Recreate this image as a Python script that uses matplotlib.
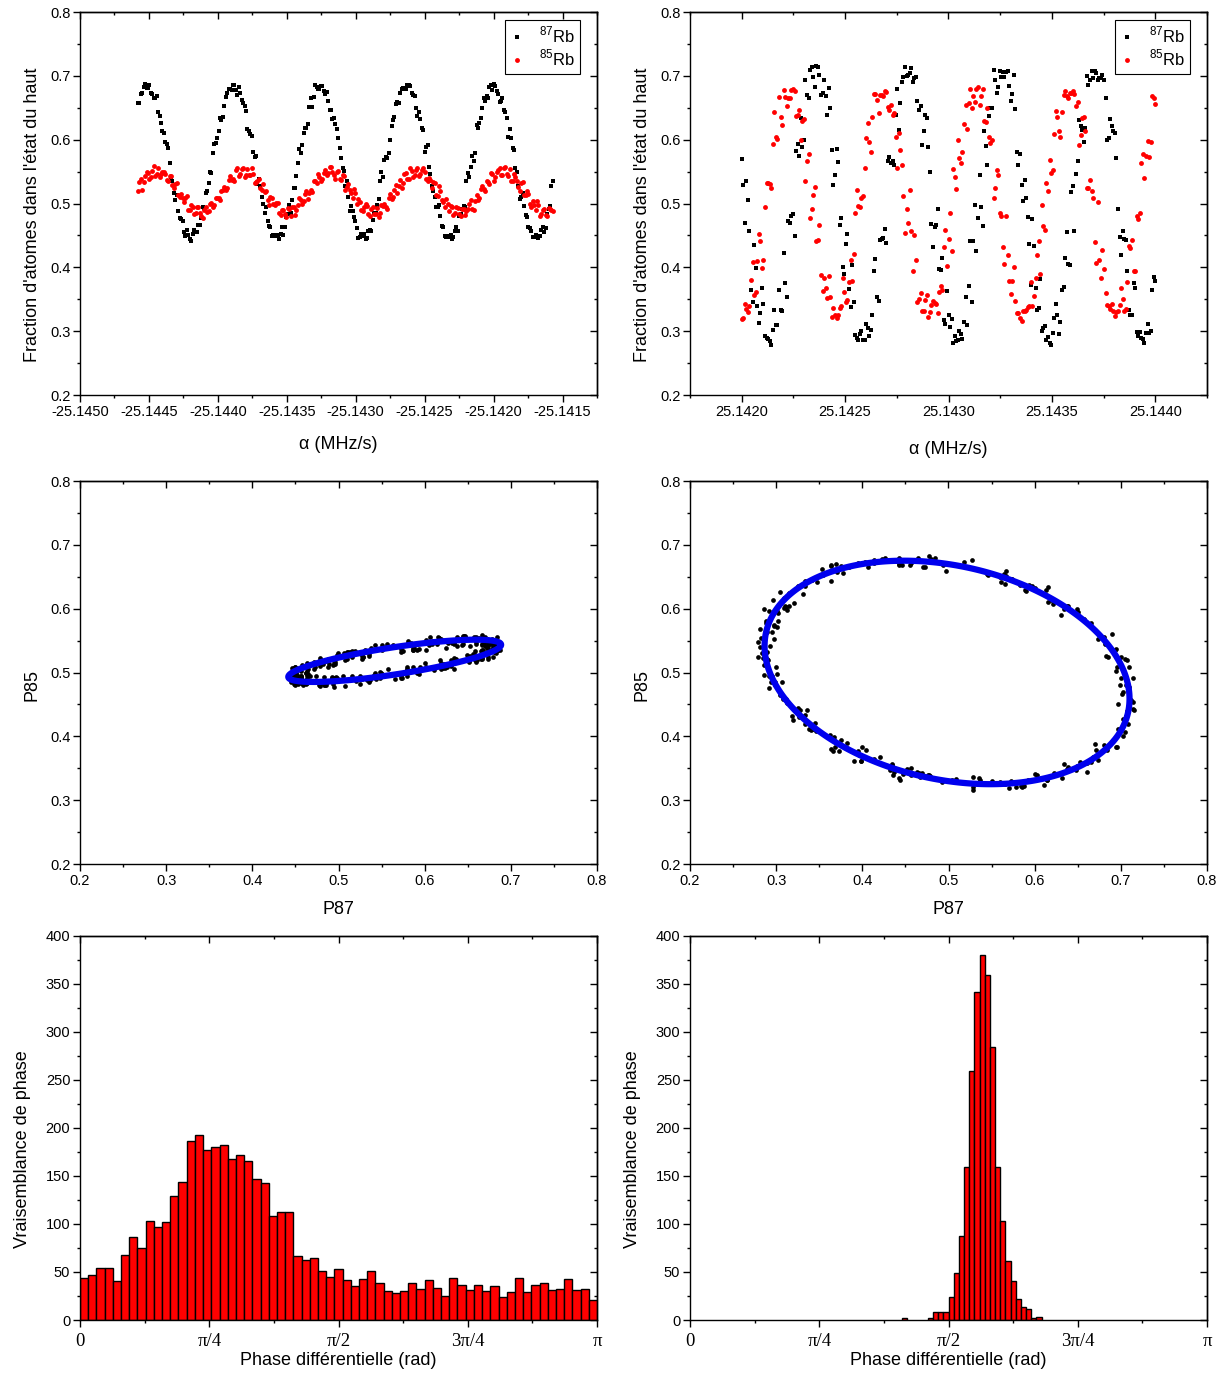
import numpy as np
import matplotlib.pyplot as plt
from matplotlib.ticker import MultipleLocator, FixedLocator, FormatStrFormatter
# imports needed packages

plt.rcParams['font.family'] = ['Liberation Sans', 'DejaVu Sans']
plt.rcParams['mathtext.fontset'] = 'custom'
plt.rcParams['mathtext.rm'] = 'Liberation Sans'
plt.rcParams['axes.linewidth'] = 1.0

# scan of the negative chirp (left column), fraction of atoms in the upper state
alpha_neg_start = -25.14458
alpha_neg_stop = -25.14157
p87_neg = [
    0.658, 0.658, 0.672, 0.673, 0.683, 0.687, 0.681, 0.681, 0.686, 0.673,
    0.672, 0.666, 0.666, 0.669, 0.644, 0.637, 0.627, 0.613, 0.610, 0.596,
    0.593, 0.587, 0.563, 0.542, 0.535, 0.516, 0.506, 0.513, 0.489, 0.478,
    0.476, 0.473, 0.456, 0.449, 0.458, 0.450, 0.445, 0.442, 0.452, 0.458,
    0.456, 0.456, 0.467, 0.467, 0.477, 0.495, 0.493, 0.516, 0.520, 0.533,
    0.549, 0.548, 0.579, 0.593, 0.595, 0.602, 0.613, 0.634, 0.631, 0.636,
    0.653, 0.667, 0.674, 0.680, 0.679, 0.678, 0.685, 0.685, 0.678, 0.670,
    0.682, 0.674, 0.663, 0.657, 0.653, 0.645, 0.617, 0.614, 0.609, 0.606,
    0.581, 0.573, 0.575, 0.531, 0.538, 0.528, 0.510, 0.499, 0.486, 0.494,
    0.472, 0.465, 0.463, 0.449, 0.451, 0.451, 0.449, 0.450, 0.445, 0.453,
    0.463, 0.450, 0.463, 0.479, 0.483, 0.498, 0.486, 0.505, 0.525, 0.525,
    0.543, 0.564, 0.586, 0.580, 0.591, 0.611, 0.619, 0.618, 0.624, 0.652,
    0.665, 0.652, 0.667, 0.685, 0.682, 0.679, 0.679, 0.684, 0.684, 0.677,
    0.672, 0.675, 0.660, 0.646, 0.647, 0.632, 0.634, 0.625, 0.617, 0.602,
    0.587, 0.572, 0.556, 0.551, 0.527, 0.535, 0.511, 0.488, 0.496, 0.488,
    0.479, 0.472, 0.462, 0.446, 0.447, 0.452, 0.449, 0.453, 0.445, 0.446,
    0.457, 0.459, 0.457, 0.474, 0.485, 0.485, 0.497, 0.507, 0.535, 0.550,
    0.541, 0.569, 0.573, 0.572, 0.580, 0.600, 0.621, 0.631, 0.635, 0.656,
    0.659, 0.658, 0.673, 0.679, 0.681, 0.680, 0.679, 0.685, 0.686, 0.684,
    0.674, 0.670, 0.669, 0.649, 0.637, 0.643, 0.632, 0.619, 0.616, 0.581,
    0.588, 0.591, 0.558, 0.546, 0.528, 0.519, 0.510, 0.495, 0.494, 0.498,
    0.480, 0.465, 0.464, 0.449, 0.448, 0.448, 0.449, 0.451, 0.444, 0.448,
    0.457, 0.464, 0.457, 0.480, 0.484, 0.492, 0.496, 0.494, 0.535, 0.548,
    0.542, 0.558, 0.574, 0.566, 0.580, 0.623, 0.619, 0.626, 0.634, 0.649,
    0.666, 0.661, 0.668, 0.665, 0.683, 0.686, 0.678, 0.687, 0.684, 0.677,
    0.672, 0.659, 0.660, 0.666, 0.647, 0.644, 0.634, 0.605, 0.617, 0.602,
    0.587, 0.584, 0.556, 0.550, 0.527, 0.507, 0.511, 0.516, 0.496, 0.482,
    0.479, 0.463, 0.462, 0.457, 0.447, 0.447, 0.450, 0.448, 0.446, 0.449,
    0.458, 0.463, 0.456, 0.462, 0.483, 0.492, 0.496, 0.527, 0.536]
p85_neg = [
    0.519, 0.534, 0.539, 0.522, 0.534, 0.543, 0.549, 0.548, 0.538, 0.541,
    0.551, 0.559, 0.543, 0.547, 0.556, 0.541, 0.547, 0.550, 0.550, 0.546,
    0.537, 0.536, 0.543, 0.543, 0.529, 0.524, 0.530, 0.532, 0.513, 0.511,
    0.515, 0.508, 0.502, 0.509, 0.512, 0.490, 0.490, 0.498, 0.494, 0.484,
    0.485, 0.494, 0.494, 0.486, 0.480, 0.477, 0.490, 0.495, 0.487, 0.488,
    0.499, 0.501, 0.494, 0.498, 0.509, 0.509, 0.508, 0.506, 0.520, 0.521,
    0.526, 0.521, 0.524, 0.537, 0.543, 0.537, 0.538, 0.536, 0.553, 0.556,
    0.543, 0.547, 0.554, 0.556, 0.542, 0.545, 0.554, 0.545, 0.544, 0.555,
    0.546, 0.532, 0.534, 0.535, 0.539, 0.525, 0.522, 0.530, 0.518, 0.519,
    0.505, 0.497, 0.511, 0.508, 0.500, 0.497, 0.501, 0.501, 0.486, 0.482,
    0.490, 0.490, 0.484, 0.479, 0.493, 0.491, 0.480, 0.495, 0.494, 0.482,
    0.490, 0.498, 0.509, 0.506, 0.500, 0.504, 0.515, 0.519, 0.507, 0.517,
    0.522, 0.518, 0.536, 0.535, 0.533, 0.547, 0.542, 0.535, 0.538, 0.548,
    0.553, 0.545, 0.548, 0.557, 0.558, 0.549, 0.544, 0.539, 0.550, 0.551,
    0.539, 0.537, 0.544, 0.543, 0.522, 0.526, 0.530, 0.521, 0.516, 0.509,
    0.523, 0.517, 0.500, 0.507, 0.503, 0.490, 0.489, 0.495, 0.499, 0.496,
    0.483, 0.480, 0.491, 0.495, 0.484, 0.483, 0.493, 0.479, 0.485, 0.497,
    0.496, 0.499, 0.494, 0.491, 0.508, 0.515, 0.507, 0.511, 0.522, 0.529,
    0.517, 0.527, 0.537, 0.524, 0.533, 0.546, 0.548, 0.538, 0.539, 0.555,
    0.551, 0.542, 0.544, 0.552, 0.555, 0.543, 0.546, 0.552, 0.556, 0.550,
    0.538, 0.535, 0.540, 0.537, 0.525, 0.534, 0.532, 0.513, 0.512, 0.528,
    0.520, 0.506, 0.503, 0.494, 0.507, 0.499, 0.488, 0.496, 0.494, 0.482,
    0.485, 0.495, 0.493, 0.484, 0.481, 0.492, 0.491, 0.482, 0.489, 0.492,
    0.500, 0.505, 0.492, 0.490, 0.504, 0.513, 0.506, 0.509, 0.523, 0.527,
    0.523, 0.520, 0.535, 0.534, 0.530, 0.548, 0.546, 0.535, 0.542, 0.549,
    0.552, 0.555, 0.544, 0.544, 0.555, 0.557, 0.547, 0.543, 0.554, 0.536,
    0.536, 0.547, 0.542, 0.536, 0.526, 0.519, 0.533, 0.534, 0.514, 0.514,
    0.519, 0.515, 0.500, 0.495, 0.504, 0.497, 0.490, 0.504, 0.498, 0.480,
    0.484, 0.490, 0.492, 0.482, 0.480, 0.493, 0.491, 0.490, 0.489]

# scan of the positive chirp (right column)
alpha_pos_start = 25.1420
alpha_pos_stop = 25.1440
p87_pos = [
    0.570, 0.529, 0.469, 0.535, 0.506, 0.457, 0.364, 0.346, 0.435, 0.399,
    0.340, 0.313, 0.328, 0.367, 0.343, 0.292, 0.289, 0.288, 0.284, 0.279,
    0.302, 0.334, 0.310, 0.309, 0.364, 0.333, 0.331, 0.423, 0.375, 0.354,
    0.473, 0.470, 0.480, 0.484, 0.449, 0.583, 0.594, 0.574, 0.634, 0.589,
    0.600, 0.693, 0.670, 0.665, 0.710, 0.714, 0.699, 0.683, 0.715, 0.714,
    0.701, 0.670, 0.674, 0.694, 0.668, 0.639, 0.681, 0.649, 0.584, 0.529,
    0.545, 0.585, 0.565, 0.467, 0.477, 0.400, 0.390, 0.437, 0.452, 0.366,
    0.338, 0.404, 0.345, 0.294, 0.289, 0.286, 0.295, 0.300, 0.286, 0.287,
    0.311, 0.305, 0.292, 0.302, 0.326, 0.395, 0.413, 0.353, 0.347, 0.443,
    0.445, 0.446, 0.460, 0.439, 0.567, 0.573, 0.564, 0.566, 0.561, 0.639,
    0.680, 0.616, 0.657, 0.690, 0.699, 0.714, 0.700, 0.702, 0.705, 0.712,
    0.691, 0.697, 0.699, 0.661, 0.646, 0.653, 0.592, 0.614, 0.638, 0.634,
    0.588, 0.550, 0.468, 0.432, 0.464, 0.466, 0.492, 0.398, 0.396, 0.414,
    0.318, 0.311, 0.363, 0.325, 0.307, 0.319, 0.282, 0.293, 0.285, 0.286,
    0.301, 0.295, 0.288, 0.315, 0.354, 0.309, 0.371, 0.442, 0.346, 0.442,
    0.497, 0.426, 0.477, 0.545, 0.494, 0.465, 0.613, 0.590, 0.560, 0.637,
    0.650, 0.649, 0.710, 0.694, 0.674, 0.682, 0.707, 0.699, 0.706, 0.698,
    0.706, 0.708, 0.684, 0.661, 0.671, 0.702, 0.648, 0.581, 0.560, 0.578,
    0.529, 0.504, 0.537, 0.509, 0.479, 0.436, 0.373, 0.476, 0.434, 0.368,
    0.334, 0.336, 0.382, 0.301, 0.305, 0.308, 0.287, 0.291, 0.281, 0.279,
    0.297, 0.321, 0.342, 0.325, 0.296, 0.315, 0.364, 0.369, 0.414, 0.455,
    0.406, 0.403, 0.518, 0.527, 0.457, 0.546, 0.567, 0.631, 0.621, 0.615,
    0.597, 0.619, 0.700, 0.685, 0.694, 0.707, 0.696, 0.707, 0.705, 0.694,
    0.697, 0.696, 0.702, 0.693, 0.665, 0.600, 0.603, 0.632, 0.622, 0.614,
    0.611, 0.572, 0.491, 0.447, 0.420, 0.457, 0.444, 0.443, 0.395, 0.333,
    0.326, 0.325, 0.375, 0.367, 0.299, 0.292, 0.299, 0.289, 0.288, 0.281,
    0.297, 0.312, 0.297, 0.301, 0.364, 0.385, 0.378]
p85_pos = [
    0.319, 0.320, 0.342, 0.335, 0.330, 0.339, 0.381, 0.408, 0.356, 0.361,
    0.410, 0.453, 0.441, 0.399, 0.412, 0.494, 0.533, 0.533, 0.530, 0.524,
    0.594, 0.643, 0.605, 0.601, 0.667, 0.635, 0.623, 0.678, 0.667, 0.653,
    0.665, 0.666, 0.678, 0.679, 0.677, 0.637, 0.638, 0.646, 0.599, 0.629,
    0.633, 0.536, 0.567, 0.577, 0.477, 0.492, 0.514, 0.526, 0.441, 0.443,
    0.466, 0.388, 0.363, 0.383, 0.367, 0.352, 0.386, 0.353, 0.323, 0.336,
    0.325, 0.321, 0.326, 0.337, 0.340, 0.383, 0.362, 0.345, 0.349, 0.377,
    0.412, 0.378, 0.421, 0.485, 0.522, 0.496, 0.495, 0.509, 0.512, 0.556,
    0.603, 0.627, 0.596, 0.581, 0.635, 0.671, 0.672, 0.662, 0.642, 0.670,
    0.670, 0.668, 0.676, 0.675, 0.652, 0.647, 0.654, 0.639, 0.642, 0.605,
    0.555, 0.611, 0.584, 0.561, 0.512, 0.454, 0.491, 0.470, 0.521, 0.457,
    0.394, 0.450, 0.411, 0.345, 0.351, 0.360, 0.331, 0.331, 0.349, 0.356,
    0.322, 0.330, 0.341, 0.348, 0.344, 0.342, 0.329, 0.362, 0.371, 0.364,
    0.432, 0.458, 0.402, 0.445, 0.485, 0.425, 0.554, 0.541, 0.523, 0.599,
    0.571, 0.564, 0.581, 0.625, 0.654, 0.617, 0.657, 0.680, 0.649, 0.668,
    0.659, 0.679, 0.682, 0.655, 0.668, 0.680, 0.629, 0.628, 0.649, 0.604,
    0.595, 0.599, 0.508, 0.524, 0.553, 0.544, 0.486, 0.480, 0.432, 0.405,
    0.480, 0.420, 0.378, 0.359, 0.379, 0.400, 0.348, 0.328, 0.328, 0.320,
    0.316, 0.331, 0.331, 0.334, 0.338, 0.339, 0.377, 0.340, 0.355, 0.383,
    0.420, 0.442, 0.389, 0.498, 0.465, 0.459, 0.532, 0.519, 0.568, 0.548,
    0.553, 0.609, 0.645, 0.636, 0.614, 0.605, 0.643, 0.670, 0.676, 0.668,
    0.665, 0.674, 0.673, 0.676, 0.672, 0.653, 0.659, 0.591, 0.607, 0.634,
    0.635, 0.614, 0.525, 0.525, 0.537, 0.520, 0.509, 0.440, 0.407, 0.503,
    0.412, 0.384, 0.428, 0.397, 0.360, 0.341, 0.339, 0.335, 0.342, 0.332,
    0.324, 0.330, 0.332, 0.341, 0.368, 0.351, 0.331, 0.335, 0.377, 0.434,
    0.430, 0.443, 0.395, 0.395, 0.480, 0.476, 0.486, 0.564, 0.577, 0.540,
    0.574, 0.598, 0.573, 0.596, 0.669, 0.666, 0.656]

# phase likelihood histograms (counts per bin, bins between 0 and pi)
hist_neg_bins = 63
hist_neg = [44, 47, 54, 54, 41, 68, 86, 75, 103, 97,
            102, 129, 144, 186, 193, 177, 180, 182, 168, 172,
            166, 147, 143, 108, 113, 113, 67, 63, 65, 51,
            45, 53, 42, 35, 43, 51, 39, 30, 28, 30,
            39, 32, 42, 33, 25, 44, 36, 31, 36, 30,
            35, 24, 29, 44, 29, 36, 39, 31, 32, 43,
            31, 32, 21]
hist_pos_bins = 100
hist_pos_first = 41  # index of the first bin listed below, all others are empty
hist_pos = [2, 0, 0, 0, 0, 2, 8, 8, 8, 24, 49, 87, 159, 259, 342, 380, 359,
            284, 159, 103, 61, 41, 22, 14, 11, 2, 3]

phase_ticks = [0, np.pi / 4, np.pi / 2, 3 * np.pi / 4, np.pi]
phase_labels = ['0', 'π/4', 'π/2', '3π/4', 'π']
# stores all the values


def style_axes(ax, xmaj, xmin, ymaj, ymin):  # ticks out on bottom/left, in on top/right
    ax.xaxis.set_major_locator(xmaj())
    ax.xaxis.set_minor_locator(xmin())
    ax.yaxis.set_major_locator(ymaj())
    ax.yaxis.set_minor_locator(ymin())
    ax.tick_params(which='both', direction='out', width=1.0, labelsize=10.5, pad=2)
    ax.tick_params(which='major', length=5)
    ax.tick_params(which='minor', length=2.5)
    top = ax.secondary_xaxis('top')
    top.xaxis.set_major_locator(xmaj())
    top.xaxis.set_minor_locator(xmin())
    top.tick_params(which='both', direction='in', width=1.0, labeltop=False)
    top.tick_params(which='major', length=5)
    top.tick_params(which='minor', length=2.5)
    right = ax.secondary_yaxis('right')
    right.yaxis.set_major_locator(ymaj())
    right.yaxis.set_minor_locator(ymin())
    right.tick_params(which='both', direction='in', width=1.0, labelright=False)
    right.tick_params(which='major', length=5)
    right.tick_params(which='minor', length=2.5)


def fit_conic(x, y):  # least squares fit of a conic a x2 + b xy + c y2 + d x + e y + f = 0
    D = np.column_stack([x ** 2, x * y, y ** 2, x, y, np.ones_like(x)])
    _, _, vt = np.linalg.svd(D)
    return vt[-1]


fig = plt.figure(figsize=(12.27, 13.75), dpi=100)

W = 517 / 1227
cols = [80 / 1227, 690 / 1227]
rows = [(0.7127, 0.2785), (0.3716, 0.2785), (0.04, 0.2793)]

scans = [
    (alpha_neg_start, alpha_neg_stop, p87_neg, p85_neg, (-25.1450, -25.14125), -0.108),
    (alpha_pos_start, alpha_pos_stop, p87_pos, p85_pos, (25.14175, 25.14425), -0.121),
]

for c, (a0, a1, p87, p85, xlim, xlab_y) in enumerate(scans):
    p87 = np.array(p87)
    p85 = np.array(p85)
    alpha = np.linspace(a0, a1, len(p87))

    # fringes versus chirp rate
    ax = fig.add_axes([cols[c], rows[0][0], W, rows[0][1]])
    ax.plot(alpha, p87, 's', color='black', ms=3.0, mew=0, label=r'$^{87}$Rb')
    ax.plot(alpha, p85, 'o', color='red', ms=3.5, mew=0, label=r'$^{85}$Rb')
    ax.set_xlim(xlim)
    ax.set_ylim(0.2, 0.8)
    style_axes(ax, lambda: MultipleLocator(0.0005), lambda: MultipleLocator(0.00025),
               lambda: MultipleLocator(0.1), lambda: MultipleLocator(0.05))
    ax.xaxis.set_major_formatter(FormatStrFormatter('%.4f'))
    ax.yaxis.set_major_formatter(FormatStrFormatter('%.1f'))
    ax.set_xlabel('α (MHz/s)', fontsize=13)
    ax.set_ylabel("Fraction d'atomes dans l'état du haut", fontsize=13)
    ax.xaxis.set_label_coords(0.5, xlab_y)
    ax.yaxis.set_label_coords(-0.0764, 0.47)
    leg = ax.legend(loc='upper right', bbox_to_anchor=(0.967, 0.979), borderaxespad=0,
                    fontsize=12, handlelength=0.8, handletextpad=0.9, borderpad=0.3,
                    labelspacing=0.15, fancybox=False, framealpha=1, markerscale=1.0)
    leg.get_frame().set_edgecolor('black')
    leg.get_frame().set_linewidth(0.8)

    # ellipse P85 versus P87 with fitted conic
    ax = fig.add_axes([cols[c], rows[1][0], W, rows[1][1]])
    ax.plot(p87, p85, 'o', color='black', ms=3.4, mew=0)
    coef = fit_conic(p87, p85)
    gx, gy = np.meshgrid(np.linspace(0.2, 0.8, 700), np.linspace(0.2, 0.8, 700))
    F = (coef[0] * gx ** 2 + coef[1] * gx * gy + coef[2] * gy ** 2
         + coef[3] * gx + coef[4] * gy + coef[5])
    ax.contour(gx, gy, F, levels=[0], colors='#0000ee', linewidths=4.5)
    ax.set_xlim(0.2, 0.8)
    ax.set_ylim(0.2, 0.8)
    style_axes(ax, lambda: MultipleLocator(0.1), lambda: MultipleLocator(0.05),
               lambda: MultipleLocator(0.1), lambda: MultipleLocator(0.05))
    ax.xaxis.set_major_formatter(FormatStrFormatter('%.1f'))
    ax.yaxis.set_major_formatter(FormatStrFormatter('%.1f'))
    ax.set_xlabel('P87', fontsize=13)
    ax.set_ylabel('P85', fontsize=13)
    ax.xaxis.set_label_coords(0.5, -0.0953)
    ax.yaxis.set_label_coords(-0.0764, 0.467)

# histograms of the differential phase
hists = [
    (hist_neg_bins, 0, hist_neg),
    (hist_pos_bins, hist_pos_first, hist_pos),
]
for c, (nbins, first, counts) in enumerate(hists):
    ax = fig.add_axes([cols[c], rows[2][0], W, rows[2][1]])
    width = np.pi / nbins
    counts = np.array(counts)
    left = (first + np.arange(len(counts))) * width
    keep = counts > 0
    ax.bar(left[keep], counts[keep], width=width, align='edge', color='red',
           edgecolor='black', linewidth=1.0)
    ax.set_xlim(0, np.pi)
    ax.set_ylim(0, 400)
    style_axes(ax, lambda: FixedLocator(phase_ticks),
               lambda: FixedLocator([np.pi / 8, 3 * np.pi / 8, 5 * np.pi / 8, 7 * np.pi / 8]),
               lambda: MultipleLocator(50), lambda: MultipleLocator(25))
    ax.set_xticks(phase_ticks, phase_labels)
    for t in ax.get_xticklabels():
        t.set_fontfamily('Liberation Serif')
        t.set_fontsize(13.5)
    ax.tick_params(axis='x', pad=4)
    ax.set_xlabel('Phase différentielle (rad)', fontsize=13)
    ax.set_ylabel('Vraisemblance de phase', fontsize=13)
    ax.xaxis.set_label_coords(0.5, -0.0846)
    ax.yaxis.set_label_coords(-0.0957, 0.445)

fig.savefig('out.png', dpi=100)
